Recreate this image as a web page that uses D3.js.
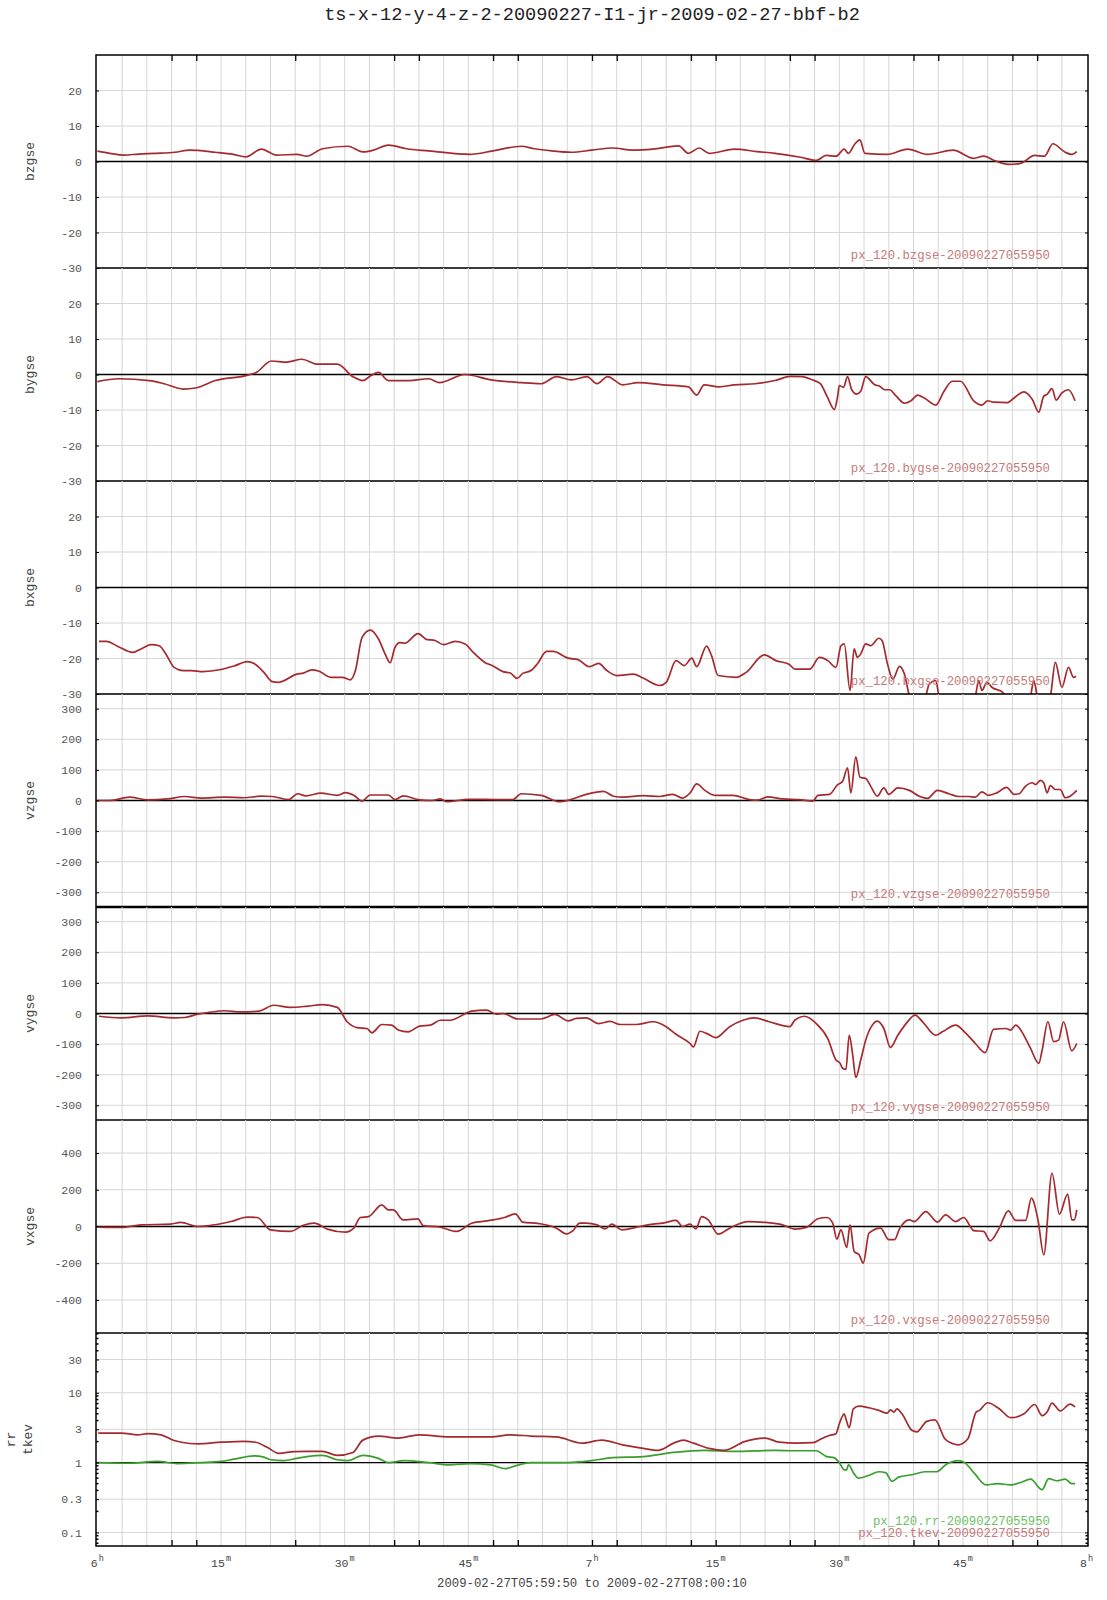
<!DOCTYPE html>
<html>
<head>
<meta charset="utf-8">
<script src="https://cdn.jsdelivr.net/npm/d3@7"></script>
<style>
  body { margin: 0; background: #fff; }
  svg { display: block; }
</style>
</head>
<body>
<svg id="chart" width="1107" height="1600"></svg>
<script>
// ---------------- DATA (time in minutes after 06:00 UT, value) ----------------
const titleText = "ts-x-12-y-4-z-2-20090227-I1-jr-2009-02-27-bbf-b2";
const rangeText = "2009-02-27T05:59:50 to 2009-02-27T08:00:10";

const bzgse = [[0,2.9],[1.5,2.3],[3.2,1.8],[5,2.1],[6.9,2.3],[9.4,2.6],[11.2,3.2],[14.3,2.6],[16.5,2.0],[18,1.3],[19.9,3.5],[21.7,1.8],[24.2,2.0],[25.4,1.5],[27.3,3.6],[30.4,4.3],[32.2,2.7],[33.5,3.2],[35.3,4.6],[37.5,3.6],[40.2,3.0],[45.2,2.0],[48,3.0],[51.4,4.3],[53,3.6],[55.1,3.0],[57.5,2.6],[60,3.2],[62.5,3.8],[65,3.2],[67.4,3.5],[70.5,4.4],[71.7,2.3],[73,3.8],[74.2,2.3],[77.3,3.5],[80,2.8],[82.2,2.3],[85.3,1.2],[87.2,0.3],[88.4,1.7],[89.6,1.5],[90.6,3.5],[91.1,2.3],[91.9,5.0],[92.5,6.1],[93.1,2.3],[95.8,2.0],[98.3,3.5],[100.7,2.0],[103.8,3.2],[106.3,0.9],[107.5,1.5],[108.8,0.3],[110.5,-0.8],[111.9,-0.6],[113.7,1.7],[114.9,1.5],[115.9,5.0],[117.4,2.6],[118.2,2.0],[118.8,2.8]];

const bygse = [[0,-2],[2.6,-1.2],[6.3,-1.7],[8.1,-2.6],[10.4,-4.1],[11.9,-3.8],[14.3,-1.7],[18,-0.3],[19.3,0.6],[21.1,3.8],[23,3.5],[24.8,4.3],[26.7,2.9],[29.1,2.9],[31,-0.6],[32.2,-1.7],[33.2,-0.3],[34.1,0.6],[35.3,-1.7],[37.8,-1.7],[40.2,-1.2],[41.5,-2.3],[44.6,0],[47.7,-1.5],[51.4,-2.3],[53.8,-2.6],[55.7,-0.6],[57.5,-1.5],[59.4,-0.6],[60.6,-2.6],[61.9,-0.6],[63.7,-2.9],[65.6,-2.3],[68.6,-2.9],[71.7,-3.5],[72.7,-5.8],[73.6,-2.9],[75.4,-3.5],[77.3,-2.9],[79.8,-2.6],[82.2,-1.7],[84.1,-0.5],[85.5,-0.6],[86.7,-1.5],[87.7,-2.6],[88.5,-6.1],[89.4,-9.8],[89.8,-6.1],[90,-3.1],[90.5,-3.6],[91,-0.6],[91.5,-4.3],[92.1,-5.5],[92.6,-4.7],[93.2,-0.6],[94.3,-2.9],[94.9,-3.3],[95.5,-4.3],[96.1,-4.3],[96.9,-6.1],[97.9,-8.1],[98.7,-7.4],[99.5,-5.8],[100.3,-6.6],[101.7,-8.6],[102.7,-4.7],[103.7,-1.9],[104.7,-1.9],[106.3,-7.4],[107.3,-8.6],[108,-7.4],[108.7,-7.8],[110.4,-7.9],[111.2,-6.6],[112.4,-4.9],[113.4,-7],[114.2,-10.6],[114.8,-6.1],[115.2,-5.6],[115.8,-4],[116.3,-7.2],[117,-5.2],[117.8,-4.3],[118.6,-7.4]];

const bxgse = [[0.2,-15.2],[1.1,-15.2],[2.5,-16.6],[4.3,-18.3],[5.3,-17.3],[6.5,-16.1],[7.5,-16.4],[8.3,-18.7],[9.3,-22.5],[10.4,-23.4],[11.4,-23.4],[12.8,-23.7],[15,-23.1],[16.6,-22.1],[18.2,-20.9],[19,-21.4],[20.2,-23.9],[21.2,-26.5],[22,-26.7],[24.2,-24.4],[25,-24.1],[26,-23.2],[26.9,-23.6],[28.3,-25.3],[29.7,-25.3],[30.7,-26],[31.3,-23.4],[32.1,-14.1],[33.1,-12],[34.1,-14.5],[34.9,-18.7],[35.5,-21.2],[36.1,-16.9],[36.7,-15.5],[37.3,-15.7],[38.9,-13],[40,-14.7],[40.8,-14.8],[42,-16.1],[43.4,-15.2],[44.6,-15.9],[45.6,-18.3],[47,-21.1],[48,-22.1],[49.2,-23.7],[50.1,-24.1],[50.9,-25.6],[51.6,-24.2],[52.6,-23.4],[53.4,-21.4],[54.5,-18],[55.3,-18],[57.1,-19.9],[58.3,-20.3],[59.7,-22.3],[60.8,-21.4],[61.8,-23.4],[63,-24.8],[65,-24.4],[66.2,-25.5],[68.2,-27.6],[69,-26.7],[70.2,-20.6],[71.2,-22],[72.1,-19.9],[72.7,-22.3],[73.9,-16.5],[74.5,-19.2],[75.3,-24.8],[77.5,-25.3],[78.7,-23.9],[80.9,-19],[82.3,-20.6],[83.9,-21.6],[84.6,-23],[86.4,-23],[87.6,-19.7],[88.6,-20.6],[89.6,-22.5],[90.2,-16.4],[90.6,-15.9],[91.3,-29],[91.8,-17.3],[92.2,-19.7],[92.6,-18.7],[93.2,-15.9],[93.8,-16.4],[94.8,-14.3],[95.2,-15],[95.8,-21.1],[96.5,-25.8],[97.3,-22.2],[97.9,-24.4],[98.5,-30.5],[99.5,-34],[100.5,-30.5],[100.9,-27.2],[101.7,-26.2],[102.1,-30.5],[104,-35],[106.5,-30.5],[106.9,-26.2],[107.3,-29],[107.9,-26.7],[108.5,-28.1],[109.8,-29.5],[110.2,-31],[112,-35],[113.2,-30.5],[113.6,-26.2],[114,-30.5],[114.8,-33],[115.6,-30.5],[116.2,-21.1],[117,-28.1],[117.8,-22.5],[118.4,-25.3],[118.7,-25]];

const vzgse = [[0,0],[1.5,0],[3.9,11],[6.1,2],[8.5,5],[10.6,13],[12.6,8],[15.4,11],[17.8,9],[19.8,14],[21.2,13],[23.2,3],[24.3,22],[25.3,15],[27.1,24],[29.1,17],[30.1,26],[31.1,17],[32.1,-2],[33.1,18],[35.3,18],[36.1,3],[37.1,15],[39.1,2],[40.6,0],[41.6,5],[42.4,-4],[45,4],[48.8,3],[50.4,3],[51.4,22],[53.8,17],[56.1,-4],[57.3,2],[59.3,20],[61.4,30],[62.6,14],[63.8,11],[66.2,16],[68.2,13],[69.8,20],[71,8],[71.9,25],[72.7,54],[73.7,33],[74.9,17],[77.1,17],[79.1,3],[80.1,1],[81.3,12],[83.1,5],[85.2,3],[86.8,-2],[87.4,17],[88.8,20],[89.8,52],[90.4,63],[91,107],[91.4,25],[92,143],[92.5,76],[93.2,72],[93.8,47],[94.6,14],[95.4,41],[96,20],[97.1,41],[98.5,33],[99.7,14],[100.7,7],[101.9,33],[103.3,22],[104.5,13],[105.7,13],[106.5,11],[107.3,28],[108.1,17],[109.1,25],[110.3,43],[111.2,20],[111.8,22],[112.6,47],[113.4,58],[113.8,52],[114.4,66],[114.8,58],[115.2,25],[115.6,49],[116.2,36],[116.8,36],[117.4,9],[118,14],[118.8,33]];

const vygse = [[0.2,-9],[2.9,-14],[6.1,-8],[9.3,-14],[10.6,-13],[12.2,-2],[13.4,3],[15.4,9],[17.4,5],[19.6,8],[21.4,27],[23.4,20],[25.5,24],[27.3,29],[29.1,20],[30.3,-27],[31.5,-46],[32.7,-49],[33.3,-63],[34.5,-36],[35.7,-38],[36.5,-54],[37.7,-60],[39.1,-41],[40.4,-38],[41.6,-22],[42.8,-22],[45.4,8],[47.2,11],[48.4,-2],[49.2,0],[51,-18],[53.8,-18],[55.5,-3],[57.1,-24],[58.1,-16],[59.3,-14],[60.8,-33],[62.2,-26],[63.4,-36],[65.4,-36],[67.4,-27],[69,-43],[70.2,-68],[71.9,-98],[72.3,-109],[73.1,-58],[73.9,-65],[75,-79],[76.7,-43],[78.3,-22],[79.7,-14],[81.5,-27],[84,-43],[84.6,-22],[85.8,-9],[87.2,-33],[88.6,-82],[89.6,-152],[90.1,-163],[90.4,-179],[90.8,-183],[91.2,-71],[91.6,-130],[92,-209],[92.6,-152],[93.2,-87],[94,-38],[94.6,-25],[95.4,-49],[96.2,-111],[97.1,-71],[98.1,-33],[99.2,-5],[100.1,-27],[101.7,-71],[102.5,-60],[104.1,-38],[105.3,-63],[106.5,-98],[107.7,-128],[108.7,-52],[110.2,-49],[110.8,-54],[111.4,-38],[112.6,-82],[113.2,-114],[114.2,-163],[114.6,-120],[115.3,-27],[116,-92],[116.6,-87],[117.2,-27],[118.2,-122],[118.8,-98]];

const vxgse = [[0.2,-4],[2.9,-5],[5.3,9],[8.9,13],[10.1,22],[12.2,0],[13.4,4],[16.2,27],[18.2,51],[19.4,49],[21,-18],[23.4,-27],[25,7],[26.3,18],[27.9,-14],[30.1,-31],[31.1,-9],[31.9,49],[32.9,54],[34.5,118],[35.3,90],[35.9,90],[37.1,36],[38.9,42],[39.5,5],[41.6,-4],[43.6,-27],[45.4,18],[47.6,33],[49.4,49],[50.7,69],[51.6,24],[53.6,16],[55.7,-9],[56.9,-40],[57.7,-22],[58.5,18],[59.3,18],[60.6,9],[61.6,-13],[62.4,13],[63.6,-18],[65.8,0],[67.4,13],[68.6,18],[70.2,33],[71,0],[71.9,13],[72.6,-13],[73.3,54],[74.1,36],[75.3,-42],[76.7,-9],[78.9,27],[81.1,22],[83.1,9],[84.6,-14],[86,-5],[87.4,42],[88.5,49],[89.2,18],[89.7,-69],[90.2,-18],[90.9,-114],[91.3,9],[91.8,-136],[92.4,-154],[92.9,-199],[93.6,-36],[95,-9],[96,-72],[96.7,-72],[97.3,-13],[98.5,36],[99.1,27],[100.5,81],[101.9,24],[102.9,63],[104.1,27],[105.1,49],[106.3,-22],[107.5,-27],[108.3,-78],[109.4,-9],[110.5,85],[111.4,33],[112.6,33],[113.3,154],[114.1,36],[114.8,-154],[115.8,290],[116.7,67],[117.7,177],[118.2,36],[118.5,36],[118.8,90]];

const tkev = [[0.1,2.65],[2.9,2.65],[4.9,2.5],[6.1,2.6],[7.7,2.5],[9.3,2.07],[10.2,1.96],[12.2,1.86],[15,1.96],[17.8,2.02],[19.2,1.96],[20.6,1.66],[22,1.36],[23.9,1.44],[25.5,1.45],[27.3,1.45],[29.1,1.27],[31,1.4],[32.2,2.1],[34.1,2.4],[36.5,2.25],[39,2.5],[42.7,2.33],[47.7,2.33],[50.1,2.5],[52.6,2.4],[55.7,2.33],[58.8,1.9],[61.2,2.1],[63.7,1.8],[66.2,1.6],[68,1.5],[69.9,1.9],[71.1,2.1],[72.3,1.9],[74.2,1.6],[76,1.5],[78.5,2.0],[81,2.25],[82.7,1.96],[84.8,1.9],[86.8,1.93],[87.8,2.19],[88.8,2.45],[89.6,2.6],[90,3.6],[90.6,5.0],[90.8,4.25],[91.2,3.16],[91.7,5.9],[92.4,6.45],[93.6,6.1],[94.8,5.6],[95.8,5.1],[96.2,5.7],[96.6,5.3],[97,5.9],[97.6,5.0],[98.8,2.9],[99.4,2.75],[100.6,3.9],[101.6,4.1],[102.8,2.2],[103.8,1.86],[104.4,1.8],[105.6,2.2],[106.6,5.3],[107,5.6],[108,7.2],[109.4,5.9],[110.8,4.4],[112.4,5.0],[113.7,6.8],[114.6,4.7],[115.2,5.3],[115.8,7.1],[116.8,5.5],[118,6.9],[118.6,6.3]];

const rr = [[0.1,1.0],[3.6,0.98],[7.3,1.04],[9.7,0.97],[12.5,1.0],[15,1.04],[16.6,1.12],[19,1.25],[20.2,1.2],[21,1.1],[22.6,1.07],[24.2,1.15],[25.4,1.22],[27.3,1.27],[29.1,1.1],[30.4,1.07],[32.2,1.27],[34.1,1.15],[35.3,1.0],[37.2,1.07],[40.2,1.0],[42.7,0.93],[45.2,0.97],[47.7,0.93],[49.5,0.82],[50.7,0.9],[52.6,1.0],[56.3,1.0],[60,1.07],[62.5,1.18],[66.2,1.22],[69.9,1.4],[73.6,1.5],[77.3,1.45],[82.2,1.5],[84.8,1.48],[87.2,1.48],[88.4,1.23],[89.4,1.17],[90,1.0],[90.6,0.79],[90.9,0.79],[91.1,0.93],[91.8,0.69],[92.3,0.6],[93.6,0.66],[94.8,0.74],[95.6,0.72],[96.4,0.54],[97.2,0.62],[98.8,0.67],[100.4,0.74],[101.8,0.74],[103,0.95],[104.4,1.07],[105.2,1.0],[106.4,0.7],[107.8,0.48],[109.2,0.5],[110.8,0.48],[112,0.52],[113.2,0.58],[114.6,0.41],[115.4,0.59],[116.4,0.55],[117.4,0.58],[118.2,0.5],[118.6,0.5]];

const bTicks = [20, 10, 0, -10, -20, -30];
const vTicks = [300, 200, 100, 0, -100, -200, -300];
const vxTicks = [400, 200, 0, -200, -400];
const logTicks = [30, 10, 3, 1, 0.3, 0.1];
const logTickLabels = ["30", "10", "3", "1", "0.3", "0.1"];
const logMinor = [0.07,0.08,0.09,0.2,0.4,0.5,0.6,0.7,0.8,0.9,2,4,5,6,7,8,9,20,40,50,60,70];

const xLabelMinutes = [0, 15, 30, 45, 60, 75, 90, 105, 120];
const xLabelMain = ["6", "15", "30", "45", "7", "15", "30", "45", "8"];
const xLabelSup = ["h", "m", "m", "m", "h", "m", "m", "m", "h"];
const xTickMinutes = [9, 12, 24, 36, 39, 48, 51, 60, 63, 72, 75, 84, 87, 99, 102, 111, 114];

// ---------------- LAYOUT ----------------
const W = 1107, L = 96, R = 1088, TOP = 55, PH = 213;
const RED = "#a52a2e", GREEN = "#3a9e2f";
const RED_TXT = "#c67a7a", GREEN_TXT = "#6cbf64";
const MONO = "'Liberation Mono', 'DejaVu Sans Mono', monospace";

const base = Date.UTC(2009, 1, 27, 6, 0, 0);
const toDate = m => new Date(base + m * 60000);
const x = d3.scaleUtc()
  .domain([new Date(Date.UTC(2009, 1, 27, 5, 59, 50)), new Date(Date.UTC(2009, 1, 27, 8, 0, 10))])
  .range([L, R]);

const panels = [
  { label: ["bzgse"], type: "lin", domain: [-30, 30], ticks: bTicks, series: [{ d: bzgse, c: RED, name: "px_120.bzgse-20090227055950", tc: RED_TXT }] },
  { label: ["bygse"], type: "lin", domain: [-30, 30], ticks: bTicks, series: [{ d: bygse, c: RED, name: "px_120.bygse-20090227055950", tc: RED_TXT }] },
  { label: ["bxgse"], type: "lin", domain: [-30, 30], ticks: bTicks, series: [{ d: bxgse, c: RED, name: "px_120.bxgse-20090227055950", tc: RED_TXT }] },
  { label: ["vzgse"], type: "lin", domain: [-348, 348], ticks: vTicks, series: [{ d: vzgse, c: RED, name: "px_120.vzgse-20090227055950", tc: RED_TXT }] },
  { label: ["vygse"], type: "lin", domain: [-348, 348], ticks: vTicks, series: [{ d: vygse, c: RED, name: "px_120.vygse-20090227055950", tc: RED_TXT }] },
  { label: ["vxgse"], type: "lin", domain: [-580, 580], ticks: vxTicks, series: [{ d: vxgse, c: RED, name: "px_120.vxgse-20090227055950", tc: RED_TXT }] },
  { label: ["rr", "tkev"], type: "log", domain: [0.064, 71.8], ticks: logTicks, series: [
      { d: rr, c: GREEN, name: "px_120.rr-20090227055950", tc: GREEN_TXT },
      { d: tkev, c: RED, name: "px_120.tkev-20090227055950", tc: RED_TXT } ] }
];

const svg = d3.select("#chart");
svg.append("rect").attr("width", W).attr("height", 1600).attr("fill", "#fff");

// Title
svg.append("text").attr("x", (L + R) / 2).attr("y", 20).attr("text-anchor", "middle")
  .attr("font-family", MONO).attr("font-size", 18.6).attr("fill", "#222").text(titleText);

const defs = svg.append("defs");
const BOTTOM = TOP + PH * panels.length;

// vertical grid (every 3 minutes)
const gridMinutes = d3.range(3, 120, 3);

panels.forEach((p, i) => {
  const y0 = TOP + i * PH, y1 = y0 + PH;
  const y = (p.type === "log" ? d3.scaleLog() : d3.scaleLinear()).domain(p.domain).range([y1, y0]);
  const g = svg.append("g");

  defs.append("clipPath").attr("id", "clip" + i)
    .append("rect").attr("x", L).attr("y", y0).attr("width", R - L).attr("height", PH);

  // grid
  g.selectAll(".vg").data(gridMinutes).join("line")
    .attr("x1", d => x(toDate(d))).attr("x2", d => x(toDate(d)))
    .attr("y1", y0).attr("y2", y1).attr("stroke", "#d6d6d6").attr("stroke-width", 1);
  g.selectAll(".hg").data(p.ticks).join("line")
    .attr("x1", L).attr("x2", R).attr("y1", d => y(d)).attr("y2", d => y(d))
    .attr("stroke", "#d6d6d6").attr("stroke-width", 1);

  // zero / unity reference line
  const ref = p.type === "log" ? 1 : 0;
  g.append("line").attr("x1", L).attr("x2", R).attr("y1", y(ref)).attr("y2", y(ref))
    .attr("stroke", "#000").attr("stroke-width", 1.3);

  // y axis labels
  const ax = d3.axisLeft(y).tickValues(p.ticks).tickSizeInner(-3).tickSizeOuter(0).tickPadding(14)
    .tickFormat((d, k) => p.type === "log" ? logTickLabels[k] : String(d));
  const ag = svg.append("g").attr("transform", `translate(${L},0)`).call(ax);
  ag.select(".domain").remove();
  ag.selectAll("line").attr("stroke", "#000");
  ag.selectAll("text").attr("font-family", MONO).attr("font-size", 11.5).attr("fill", "#555");

  const axR = d3.axisRight(y).tickValues(p.ticks).tickSizeInner(-3).tickSizeOuter(0).tickFormat("");
  const agR = svg.append("g").attr("transform", `translate(${R},0)`).call(axR);
  agR.select(".domain").remove();
  agR.selectAll("line").attr("stroke", "#000");

  if (p.type === "log") {
    [L, R].forEach((xx, side) => {
      svg.append("g").selectAll("line").data(logMinor).join("line")
        .attr("x1", xx).attr("x2", side ? xx - 2.5 : xx + 2.5)
        .attr("y1", d => y(d)).attr("y2", d => y(d))
        .attr("stroke", "#000").attr("stroke-width", 1.5);
    });
  }

  // series
  const line = d3.line().x(d => x(toDate(d[0]))).y(d => y(d[1])).curve(d3.curveMonotoneX);
  const sg = g.append("g").attr("clip-path", `url(#clip${i})`);
  p.series.forEach(s => {
    sg.append("path").attr("d", line(s.d)).attr("fill", "none")
      .attr("stroke", s.c).attr("stroke-width", 1.7).attr("stroke-linejoin", "round");
  });

  // series name annotations (bottom-right)
  p.series.forEach((s, k) => {
    const n = p.series.length;
    svg.append("text").attr("x", 1050).attr("y", y1 - 9 - (n - 1 - k) * 12.5)
      .attr("text-anchor", "end").attr("font-family", MONO).attr("font-size", 12.3)
      .attr("fill", s.tc).text(s.name);
  });

  // y label (rotated)
  const cy = (y0 + y1) / 2;
  p.label.forEach((lab, k) => {
    const lx = p.label.length > 1 ? 11 + k * 17 : 30;
    svg.append("text").attr("transform", `translate(${lx + 4},${cy}) rotate(-90)`)
      .attr("text-anchor", "middle").attr("font-family", MONO).attr("font-size", 13)
      .attr("fill", "#444").text(lab);
  });

  // separator at panel bottom
  if (i < panels.length - 1) {
    svg.append("line").attr("x1", L).attr("x2", R).attr("y1", y1).attr("y2", y1)
      .attr("stroke", "#000").attr("stroke-width", i === 3 ? 2.5 : 1.5);
  }
});

// frame
svg.append("rect").attr("x", L).attr("y", TOP).attr("width", R - L).attr("height", BOTTOM - TOP)
  .attr("fill", "none").attr("stroke", "#000").attr("stroke-width", 1.5);

// x ticks top and bottom
const tickDates = xTickMinutes.map(toDate);
const bAx = svg.append("g").attr("transform", `translate(0,${BOTTOM})`)
  .call(d3.axisBottom(x).tickValues(tickDates).tickSizeInner(-6).tickSizeOuter(0).tickFormat(""));
bAx.select(".domain").remove();
bAx.selectAll("line").attr("stroke", "#000").attr("stroke-width", 1.3);
const tAx = svg.append("g").attr("transform", `translate(0,${TOP})`)
  .call(d3.axisTop(x).tickValues(tickDates).tickSizeInner(-6).tickSizeOuter(0).tickFormat(""));
tAx.select(".domain").remove();
tAx.selectAll("line").attr("stroke", "#000").attr("stroke-width", 1.3);

// x labels with superscripts
xLabelMinutes.forEach((m, k) => {
  const t = svg.append("text").attr("x", x(toDate(m))).attr("y", BOTTOM + 21)
    .attr("text-anchor", "middle").attr("font-family", MONO).attr("fill", "#444");
  t.append("tspan").attr("font-size", 11.5).text(xLabelMain[k]);
  t.append("tspan").attr("font-size", 8.5).attr("dy", -6).attr("dx", 1).text(xLabelSup[k]);
});

svg.append("text").attr("x", (L + R) / 2).attr("y", BOTTOM + 41).attr("text-anchor", "middle")
  .attr("font-family", MONO).attr("font-size", 12.3).attr("fill", "#444").text(rangeText);
</script>
</body>
</html>
